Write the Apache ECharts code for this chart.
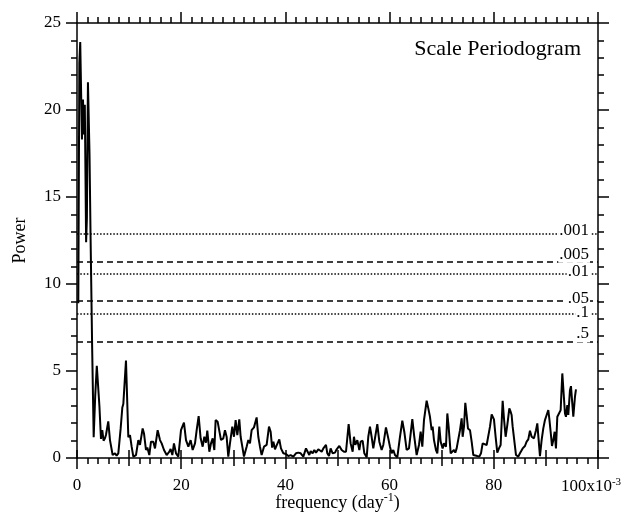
<!DOCTYPE html>
<html>
<head>
<meta charset="utf-8">
<title>Scale Periodogram</title>
<script src="https://cdn.jsdelivr.net/npm/echarts@6/dist/echarts.min.js"></script>
<style>
  html, body { margin: 0; padding: 0; background: #fff; }
  #periodogram { width: 626px; height: 515px; }
</style>
</head>
<body>
<div id="periodogram"></div>
<script>
// frequency in units of 10^-3 day^-1
var freq = [
  0.25, 0.45, 0.62, 0.95, 1.15, 1.35, 1.5, 1.75, 1.9, 2.1,
  2.4, 2.6, 2.9, 3.2, 3.5, 3.8, 4.0, 4.3, 4.6, 4.85,
  5.1, 5.37, 5.56, 6.0, 6.33, 6.84, 7.3, 7.6, 7.93, 8.38,
  8.7, 8.89, 9.4, 9.85, 10.17, 10.49, 10.81, 11.32, 11.77, 12.09,
  12.6, 12.86, 13.24, 13.5, 13.88, 14.2, 14.65, 14.97, 15.48, 15.93,
  16.25, 16.7, 17.21, 17.72, 17.97, 18.3, 18.61, 19.0, 19.45, 19.96,
  20.53, 20.92, 21.37, 21.81, 22.2, 22.65, 22.97, 23.35, 23.73, 24.12,
  24.44, 24.76, 25.01, 25.4, 25.72, 26.04, 26.36, 26.61, 27.0, 27.25,
  27.64, 28.08, 28.4, 28.72, 29.04, 29.36, 29.81, 30.13, 30.45, 30.77,
  31.15, 31.41, 31.73, 32.05, 32.56, 32.88, 33.2, 33.52, 33.97, 34.48,
  34.8, 35.12, 35.44, 35.89, 36.4, 36.85, 37.17, 37.45, 37.7, 38.0,
  38.32, 38.83, 39.15, 39.6, 40.11, 40.56, 41.0, 41.52, 42.03, 42.48,
  42.93, 43.44, 43.95, 44.27, 44.59, 44.85, 45.23, 45.55, 45.87, 46.32,
  46.64, 46.96, 47.28, 47.79, 48.04, 48.36, 48.68, 49.07, 49.52, 49.84,
  50.35, 50.8, 51.24, 51.63, 52.14, 52.52, 52.91, 53.16, 53.42, 53.8,
  54.19, 54.44, 54.83, 55.15, 55.6, 55.91, 56.23, 56.55, 56.87, 57.19,
  57.64, 58.03, 58.47, 58.79, 59.3, 59.75, 60.07, 60.39, 60.71, 61.03,
  61.48, 61.99, 62.44, 62.82, 63.27, 63.72, 64.36, 64.74, 65.19, 65.64,
  65.96, 66.28, 66.6, 67.11, 67.43, 67.75, 68.07, 68.26, 68.52, 68.9,
  69.16, 69.54, 69.8, 70.18, 70.44, 70.82, 71.08, 71.33, 71.72, 72.1,
  72.36, 72.61, 72.87, 73.19, 73.51, 73.83, 74.02, 74.28, 74.53, 74.79,
  75.04, 75.43, 75.75, 76.07, 76.39, 76.83, 77.22, 77.54, 77.86, 78.18,
  78.63, 78.95, 79.27, 79.59, 80.03, 80.35, 80.67, 80.99, 81.31, 81.7,
  81.95, 82.27, 82.59, 82.98, 83.23, 83.42, 83.62, 83.94, 84.26, 84.7,
  85.02, 85.54, 85.98, 86.3, 86.62, 86.94, 87.26, 87.71, 88.1, 88.35,
  88.61, 88.86, 89.18, 89.5, 89.82, 90.14, 90.46, 90.65, 90.91, 91.17,
  91.42, 91.68, 91.93, 92.19, 92.51, 92.83, 93.15, 93.47, 93.66, 93.85,
  94.11, 94.3, 94.62, 94.81, 95.07, 95.26, 95.58, 95.77
];
var power = [
  8.9, 22.7, 23.9, 18.3, 20.6, 18.6, 20.3, 12.4, 13.8, 21.6,
  17.5, 12.8, 6.5, 1.2, 3.6, 5.3, 5.4, 3.0, 1.1, 1.6,
  1.0, 1.13, 1.32, 2.1, 1.03, 0.17, 0.27, 0.13, 0.27, 1.7,
  2.9, 3.1, 5.6, 1.2, 1.32, 0.65, 0.08, 0.17, 1.03, 0.75,
  1.7, 1.41, 0.46, 0.61, 0.17, 0.94, 0.94, 0.55, 1.6, 1.03,
  0.84, 0.46, 0.17, 0.36, 0.52, 0.17, 0.84, 0.27, 0.08, 1.6,
  2.03, 1.03, 0.65, 1.03, 0.46, 0.84, 1.6, 2.41, 1.13, 0.65,
  1.22, 0.88, 1.57, 0.36, 0.84, 1.13, 0.46, 2.18, 2.08, 2.12,
  1.03, 1.13, 1.6, 1.22, 0.08, 0.84, 1.8, 1.22, 2.18, 1.32,
  2.22, 1.22, 0.65, 0.08, 0.65, 1.03, 0.84, 1.6, 1.76, 2.33,
  1.22, 0.65, 0.17, 0.65, 0.75, 1.8, 1.51, 0.6, 0.94, 0.5,
  0.72, 1.07, 0.55, 0.27, 0.23, 0.11, 0.17, 0.08, 0.27, 0.31,
  0.27, 0.08, 0.55, 0.46, 0.17, 0.4, 0.27, 0.46, 0.31, 0.5,
  0.46, 0.36, 0.55, 0.75, 0.27, 0.11, 0.55, 0.27, 0.31, 0.5,
  0.69, 0.46, 0.36, 0.36, 1.95, 0.84, 0.36, 1.22, 0.75, 1.03,
  0.46, 0.94, 0.99, 0.27, 0.04, 1.22, 1.8, 1.22, 0.55, 0.46,
  1.95, 0.94, 0.46, 0.75, 1.76, 1.13, 0.65, 0.27, 0.46, 0.17,
  0.04, 1.22, 2.14, 1.51, 0.46, 0.55, 2.24, 1.22, 0.17, 0.75,
  1.51, 0.65, 2.18, 3.29, 2.85, 2.37, 1.6, 1.8, 1.03, 0.46,
  0.27, 1.8, 0.94, 0.55, 0.84, 0.65, 2.56, 1.8, 0.27, 0.17,
  0.46, 0.31, 0.55, 0.46, 1.6, 2.28, 1.22, 1.8, 3.17, 2.47,
  1.7, 1.6, 0.94, 0.17, 0.08, 0.11, 0.08, 0.27, 0.84, 0.94,
  0.75, 0.69, 1.8, 2.5, 2.22, 1.22, 0.31, 0.55, 0.75, 3.29,
  2.28, 1.22, 1.89, 2.85, 2.66, 2.47, 1.8, 1.89, 0.17, 0.08,
  0.27, 0.55, 0.69, 0.94, 1.07, 1.57, 1.22, 1.13, 1.6, 1.99,
  1.03, 0.11, 1.03, 1.7, 2.18, 2.47, 2.75, 2.28, 1.51, 0.69,
  1.03, 1.51, 0.55, 2.37, 2.56, 2.75, 4.86, 3.42, 2.56, 2.37,
  3.04, 2.47, 3.9, 4.13, 4.09, 2.37, 3.52, 3.94
];

// false-alarm probability levels
var sigLabels = ['.001', '.005', '.01', '.05', '.1', '.5'];
var sigLevels = [12.88, 11.28, 10.6, 9.03, 8.28, 6.7];

// drawing styles for the levels (kept apart from the data)
var sigDash = ['dotted', 'dashed', 'dotted', 'dashed', 'dotted', 'dashed'];
var sigLift = [-5, -1, -6, -6, -7, -1];

var FONT = 'Liberation Serif';
var dashPattern = { dotted: [1.5, 1.8], dashed: [6, 4] };

var chart = echarts.init(document.getElementById('periodogram'));

var points = freq.map(function (f, i) { return [f, power[i]]; });

var tickStyle = { color: '#000', width: 1.5 };

function frameX(pos, withLabel) {
  return {
    type: 'value', position: pos, min: 0, max: 100, interval: 20,
    axisLine: { show: true, onZero: false, lineStyle: tickStyle },
    axisTick: { show: true, inside: false, length: 11, lineStyle: tickStyle },
    minorTick: { show: true, splitNumber: 10, length: 6, lineStyle: tickStyle },
    splitLine: { show: false },
    minorSplitLine: { show: false },
    axisLabel: withLabel ? {
      margin: 19,
      color: '#000',
      fontFamily: FONT,
      formatter: function (v) {
        return v === 100 ? '{n|100x10}{s|-3}' : '{n|' + v + '}';
      },
      rich: {
        n: { fontFamily: FONT, fontSize: 17, color: '#000' },
        s: { fontFamily: FONT, fontSize: 11, color: '#000', padding: [0, 14, 9, 0] }
      }
    } : { show: false }
  };
}

function midX(pos) {
  return {
    type: 'value', position: pos, min: 0, max: 100, interval: 10,
    axisLine: { show: false },
    axisTick: { show: true, inside: false, length: 8, lineStyle: tickStyle },
    splitLine: { show: false },
    axisLabel: { show: false }
  };
}

function frameY(pos, withLabel) {
  return {
    type: 'value', position: pos, min: 0, max: 25, interval: 5,
    axisLine: { show: true, onZero: false, lineStyle: tickStyle },
    axisTick: { show: true, inside: false, length: 11, lineStyle: tickStyle },
    minorTick: { show: true, splitNumber: 5, length: 6, lineStyle: tickStyle },
    splitLine: { show: false },
    minorSplitLine: { show: false },
    axisLabel: withLabel ? {
      margin: 16, color: '#000', fontFamily: FONT, fontSize: 17
    } : { show: false }
  };
}

var xMain = frameX('bottom', true);
xMain.name = '{n|frequency (day}{s|-1}{n|)}';
xMain.nameLocation = 'middle';
xMain.nameGap = 34;
xMain.nameMoveOverlap = false;
xMain.nameTextStyle = {
  rich: {
    n: { fontFamily: FONT, fontSize: 18, color: '#000' },
    s: { fontFamily: FONT, fontSize: 12, color: '#000', padding: [0, 0, 10, 0] }
  }
};

var yMain = frameY('left', true);
yMain.name = 'Power';
yMain.nameLocation = 'middle';
yMain.nameGap = 48;
yMain.nameMoveOverlap = false;
yMain.nameTextStyle = { fontFamily: FONT, fontSize: 18, color: '#000' };

option = {
  backgroundColor: '#fff',
  animation: false,
  title: {
    text: 'Scale Periodogram',
    right: 40,
    top: 33,
    textStyle: { fontFamily: FONT, fontSize: 22, fontWeight: 'normal', color: '#000' }
  },
  grid: { left: 77, right: 28, top: 23, bottom: 57, containLabel: false, outerBoundsMode: 'none' },
  xAxis: [xMain, midX('bottom'), frameX('top', false), midX('top')],
  yAxis: [yMain, frameY('right', false)],
  series: [{
    name: 'Power',
    type: 'line',
    xAxisIndex: 0,
    yAxisIndex: 0,
    data: points,
    showSymbol: false,
    symbol: 'none',
    lineStyle: { color: '#000', width: 2 },
    markLine: {
      silent: true,
      symbol: 'none',
      animation: false,
      data: sigLevels.map(function (v, i) {
        return {
          yAxis: v,
          lineStyle: { color: '#000', width: 1.5, type: dashPattern[sigDash[i]] },
          label: {
            show: true,
            position: 'insideEndTop',
            distance: [8, sigLift[i]],
            formatter: sigLabels[i],
            fontFamily: FONT,
            fontSize: 17,
            color: '#000',
            backgroundColor: '#fff',
            padding: [0, 1]
          }
        };
      })
    }
  }]
};

chart.setOption(option);
window.addEventListener('resize', function () { chart.resize(); });
</script>
</body>
</html>
